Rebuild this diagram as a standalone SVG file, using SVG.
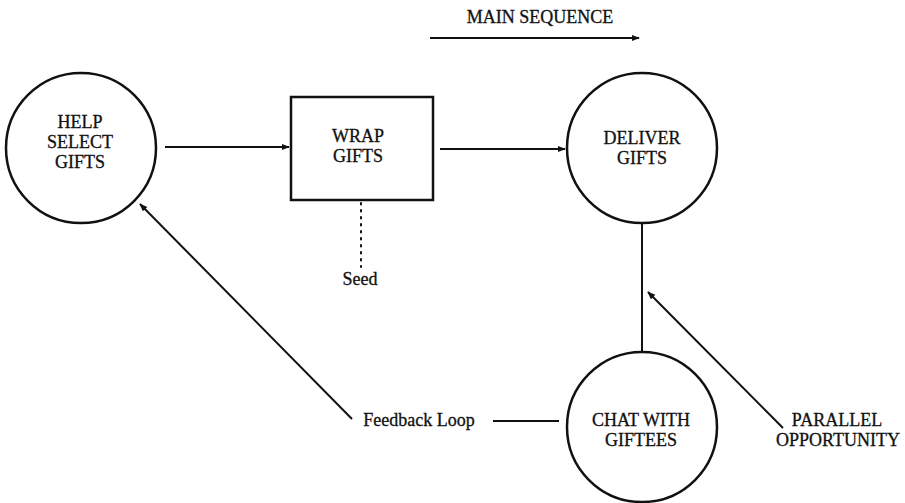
<svg xmlns="http://www.w3.org/2000/svg" width="905" height="503" viewBox="0 0 905 503">
<style>
.t{font-family:"Liberation Serif","DejaVu Serif",serif;font-size:18px;fill:#111;text-anchor:middle;stroke:#111;stroke-width:0.3}
.n{fill:none;stroke:#111;stroke-width:2.5}
.c{fill:none;stroke:#111;stroke-width:2}
</style>
<defs>
<marker id="ah" viewBox="0 0 10 10" refX="9" refY="5" markerWidth="4" markerHeight="4" orient="auto" markerUnits="strokeWidth">
<path d="M0,1 L10,5 L0,9 z" fill="#111"/>
</marker>
</defs>
<rect width="905" height="503" fill="#fff"/>
<g id="main-sequence">
<text class="t" x="540" y="23">MAIN SEQUENCE</text>
</g>
<g id="help-select-gifts">
<circle class="n" cx="81" cy="148" r="75"/>
<text class="t" x="80" y="128">HELP</text>
<text class="t" x="80" y="148">SELECT</text>
<text class="t" x="80" y="168">GIFTS</text>
</g>
<g id="wrap-gifts">
<rect class="n" x="291" y="97" width="142" height="103"/>
<text class="t" x="358" y="142">WRAP</text>
<text class="t" x="358" y="162">GIFTS</text>
</g>
<g id="deliver-gifts">
<circle class="n" cx="642" cy="148" r="75"/>
<text class="t" x="642" y="144">DELIVER</text>
<text class="t" x="642" y="164">GIFTS</text>
</g>
<g id="chat-with-giftees">
<circle class="n" cx="642" cy="427" r="75"/>
<text class="t" x="641" y="426">CHAT WITH</text>
<text class="t" x="641" y="446">GIFTEES</text>
</g>
<g id="seed">
<text class="t" x="360" y="285">Seed</text>
</g>
<g id="feedback-loop">
<text class="t" x="419" y="426">Feedback Loop</text>
</g>
<g id="parallel-opportunity">
<text class="t" x="837" y="426">PARALLEL</text>
<text class="t" x="838" y="446">OPPORTUNITY</text>
</g>
<g id="connectors">
<line class="c" x1="430" y1="38" x2="639" y2="38" marker-end="url(#ah)"/>
<line class="c" x1="165" y1="147" x2="289" y2="147" marker-end="url(#ah)"/>
<line class="c" x1="440" y1="149" x2="565" y2="149" marker-end="url(#ah)"/>
<line class="c" x1="361" y1="203" x2="361" y2="267" stroke-dasharray="1.5 5.5" stroke-linecap="round"/>
<line class="c" x1="642" y1="223" x2="642" y2="352"/>
<line class="c" x1="352" y1="419" x2="140" y2="204" marker-end="url(#ah)"/>
<line class="c" x1="493" y1="421" x2="559" y2="421"/>
<line class="c" x1="783" y1="428" x2="648" y2="292" marker-end="url(#ah)"/>
</g>
</svg>
